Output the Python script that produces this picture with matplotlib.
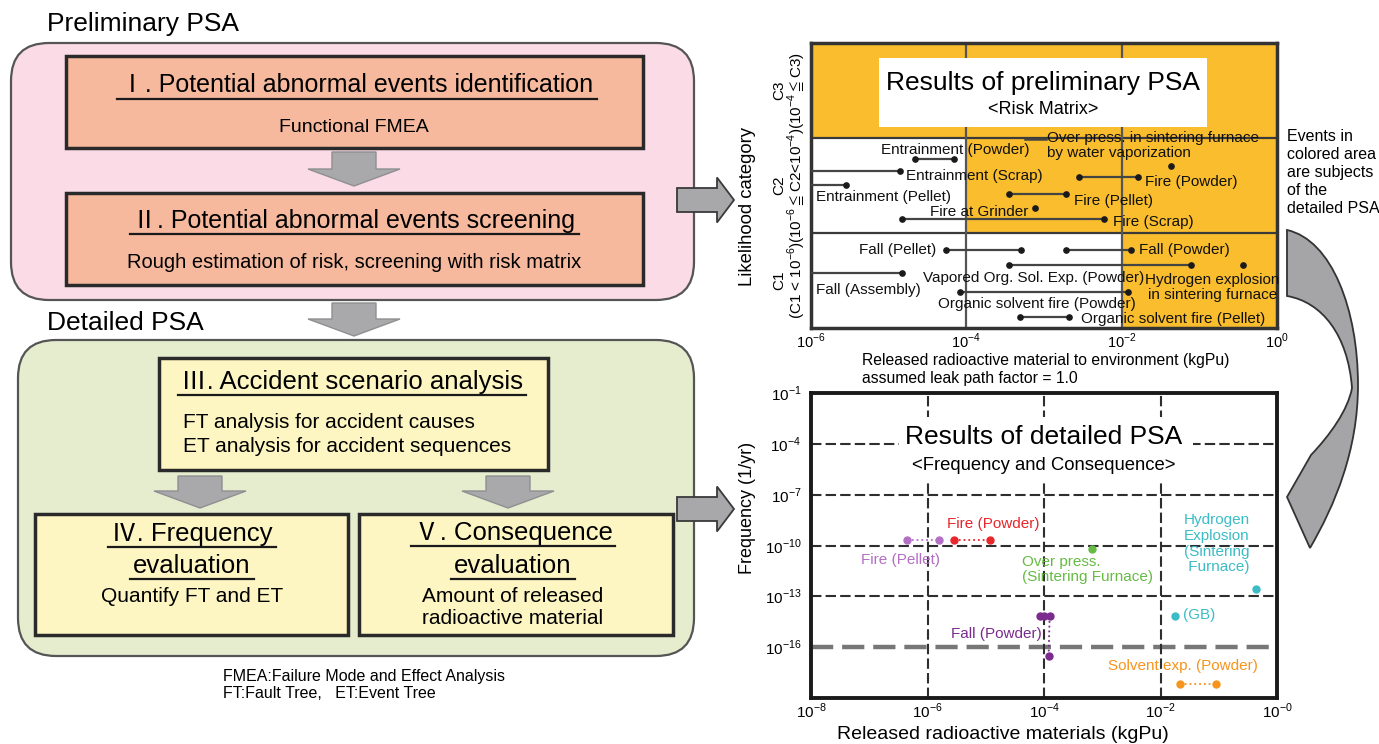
import matplotlib
matplotlib.use('Agg')
import matplotlib.pyplot as plt
from matplotlib.patches import FancyBboxPatch, Polygon, Rectangle, PathPatch
from matplotlib.path import Path

plt.rcParams['font.family'] = ['Liberation Sans', 'Noto Sans CJK JP', 'DejaVu Sans']
plt.rcParams['mathtext.fontset'] = 'custom'
plt.rcParams['mathtext.rm'] = 'Liberation Sans'
plt.rcParams['mathtext.fallback'] = 'stix'

# ---- preliminary PSA (risk matrix) data ----
cat_names = ['C1', 'C2', 'C3']
cat_ranges = ['(C1 < 10$^{-6}$)', '(10$^{-6}$$\\leqq$C2<10$^{-4}$)', '(10$^{-4}$$\\leqq$C3)']
colored_from = [1e-2, 1e-4, 1e-6]   # colored area starts here for C1, C2, C3
pre_xticks = [1e-6, 1e-4, 1e-2, 1e0]
pre_xticklabels = ['10$^{-6}$', '10$^{-4}$', '10$^{-2}$', '10$^{0}$']

pre_names = ['Entrainment (Powder)', 'Entrainment (Scrap)', 'Entrainment (Pellet)',
             'Fire at Grinder', 'Fire (Scrap)', 'Fire (Pellet)', 'Fire (Powder)',
             'Over press. in sintering furnace\nby water vaporization',
             'Fall (Pellet)', 'Fall (Powder)', 'Vapored Org. Sol. Exp. (Powder)',
             'Hydrogen explosion\nin sintering furnace', 'Fall (Assembly)',
             'Organic solvent fire (Powder)', 'Organic solvent fire (Pellet)']
pre_lo = [2.2e-5, 1e-6, 1e-6, 7.6e-4, 1.5e-5, 3.5e-4, 2.8e-3, 4.3e-2,
          5.5e-5, 1.9e-3, 3.5e-4, 0.37, 1e-6, 8.3e-5, 4.9e-4]
pre_hi = [6.9e-5, 1.4e-5, 2.8e-6, 7.6e-4, 5.9e-3, 1.9e-3, 1.6e-2, 4.3e-2,
          5.0e-4, 1.3e-2, 7.8e-2, 0.37, 1.5e-5, 1.2e-2, 2.1e-3]
pre_y = [1.78, 1.655, 1.507, 1.268, 1.144, 1.408, 1.585, 1.71,
         0.82, 0.82, 0.662, 0.662, 0.581, 0.377, 0.12]
# label placement (log10 x, y, ha)
pre_lab = [(-4.14, 1.873, 'center'), (-4.78, 1.595, 'left'), (-5.94, 1.384, 'left'),
           (-3.20, 1.222, 'right'), (-2.11, 1.12, 'left'), (-2.62, 1.338, 'left'),
           (-1.70, 1.542, 'left'), (-2.96, 1.923, 'left'),
           (-4.39, 0.817, 'right'), (-1.78, 0.817, 'left'), (-3.13, 0.528, 'center'),
           (-0.83, 0.43, 'center'), (-5.94, 0.401, 'left'), (-3.09, 0.254, 'center'),
           (-2.52, 0.099, 'left')]

# ---- detailed PSA (frequency vs consequence) data ----
det_names = ['Fire (Pellet)', 'Fire (Powder)', 'Over press.\n(Sintering Furnace)',
             'Hydrogen\nExplosion\n(Sintering\n Furnace)', '(GB)', 'Fall (Powder)',
             'Solvent exp. (Powder)']
det_x = [[4.5e-7, 1.6e-6], [2.9e-6, 1.2e-5], [6.6e-4], [0.44], [0.0174],
         [8.5e-5, 1.0e-4, 1.25e-4, 1.2e-4], [0.022, 0.091]]
det_y = [[2e-10, 2e-10], [2e-10, 2e-10], [6.6e-11], [2.7e-13], [6.6e-15],
         [6.6e-15, 6.6e-15, 6.6e-15, 3.2e-17], [6.9e-19, 6.9e-19]]
det_colors = ['#b46fc4', '#e8262b', '#66bb44', '#3cbcc6', '#3cbcc6', '#7b2a8e', '#f7941d']
det_lab = [(-6.46, -10.86, 'center'), (-4.87, -8.71, 'center'), (-4.38, -11.41, 'left'),
           (-1.03, -9.9, 'center'), (-1.62, -14.1, 'left'), (-4.82, -15.2, 'center'),
           (-1.62, -17.1, 'center')]
det_yticks = [1e-1, 1e-4, 1e-7, 1e-10, 1e-13, 1e-16]
det_yticklabels = ['10$^{-1}$', '10$^{-4}$', '10$^{-7}$', '10$^{-10}$', '10$^{-13}$', '10$^{-16}$']
det_xticks = [1e-8, 1e-6, 1e-4, 1e-2, 1e0]
det_xticklabels = ['10$^{-8}$', '10$^{-6}$', '10$^{-4}$', '10$^{-2}$', '10$^{-0}$']

W, H = 1379, 744
fig = plt.figure(figsize=(W / 100, H / 100), dpi=100)


def fax(l, t, r, b, **kw):
    return fig.add_axes([l / W, 1 - b / H, (r - l) / W, (b - t) / H], **kw)


def P(x, y):
    return (x / W, 1 - y / H)


bg = fax(0, 0, W, H, zorder=-1)
bg.set_xlim(0, W)
bg.set_ylim(H, 0)
bg.axis('off')

# ---------------- left flowchart ----------------
EDGE = '#2a2a2a'


def rbox(x0, y0, x1, y1, fc, r=0, lw=2.5, ec=EDGE):
    style = 'round,pad=0,rounding_size=%d' % r if r else 'square,pad=0'
    bg.add_patch(FancyBboxPatch((x0, y0), x1 - x0, y1 - y0, boxstyle=style,
                                fc=fc, ec=ec, lw=lw))


def down_arrow(cx, y0, y1, sw=44, hw=92, hl=17):
    pts = [(cx - sw / 2, y0), (cx + sw / 2, y0), (cx + sw / 2, y1 - hl), (cx + hw / 2, y1 - hl),
           (cx, y1), (cx - hw / 2, y1 - hl), (cx - sw / 2, y1 - hl)]
    bg.add_patch(Polygon(pts, closed=True, fc='#a9a9ab', ec='#8f8f92', lw=1))


def right_arrow(x0, x1, cy, sh=24, hh=45, hl=17):
    pts = [(x0, cy - sh / 2), (x1 - hl, cy - sh / 2), (x1 - hl, cy - hh / 2), (x1, cy),
           (x1 - hl, cy + hh / 2), (x1 - hl, cy + sh / 2), (x0, cy + sh / 2)]
    bg.add_patch(Polygon(pts, closed=True, fc='#a8a8ab', ec='#3a3a3a', lw=1.3, zorder=5))


rbox(11, 43, 694, 300, '#fadbe6', r=38, lw=1.6, ec='#555555')
rbox(18, 340, 694, 656, '#e6edcf', r=38, lw=1.6, ec='#555555')
rbox(66, 56, 643, 148, '#f6b99e')
rbox(66, 193, 643, 285, '#f6b99e')
rbox(159, 358, 548, 470, '#fdf6c2')
rbox(35, 514, 348, 635, '#fdf6c2')
rbox(359, 514, 673, 635, '#fdf6c2')

down_arrow(354, 152, 186)
down_arrow(354, 303, 336)
down_arrow(200, 476, 508)
down_arrow(508, 476, 508)
right_arrow(677, 734, 200)
right_arrow(677, 734, 509)

bg.text(47, 24, 'Preliminary PSA', fontsize=19, ha='left', va='center')
bg.text(47, 323, 'Detailed PSA', fontsize=19, ha='left', va='center')

ul = []
ul.append(bg.text(357, 85, 'Ⅰ. Potential abnormal events identification', fontsize=18, ha='center', va='center'))
bg.text(354, 127, 'Functional FMEA', fontsize=14, ha='center', va='center')
ul.append(bg.text(354, 221, 'Ⅱ. Potential abnormal events screening', fontsize=18, ha='center', va='center'))
bg.text(354, 263, 'Rough estimation of risk, screening with risk matrix', fontsize=14.5, ha='center', va='center')
ul.append(bg.text(352, 382, 'Ⅲ. Accident scenario analysis', fontsize=18.5, ha='center', va='center'))
bg.text(183, 423, 'FT analysis for accident causes', fontsize=15, ha='left', va='center')
bg.text(183, 446, 'ET analysis for accident sequences', fontsize=15, ha='left', va='center')
ul.append(bg.text(192, 534, 'Ⅳ. Frequency', fontsize=18.5, ha='center', va='center'))
ul.append(bg.text(192, 566, 'evaluation', fontsize=18.5, ha='center', va='center'))
bg.text(192, 596, 'Quantify FT and ET', fontsize=15, ha='center', va='center')
ul.append(bg.text(513, 533, 'Ⅴ. Consequence', fontsize=18.5, ha='center', va='center'))
ul.append(bg.text(513, 566, 'evaluation', fontsize=18.5, ha='center', va='center'))
bg.text(513, 597, 'Amount of released', fontsize=15, ha='center', va='center')
bg.text(513, 619, 'radioactive material', fontsize=15, ha='center', va='center')

bg.text(223, 676, 'FMEA:Failure Mode and Effect Analysis', fontsize=11.5, ha='left', va='center')
bg.text(223, 694, 'FT:Fault Tree,   ET:Event Tree', fontsize=11.5, ha='left', va='center')

# curved arrow from the risk matrix to the detailed PSA (smooth outline)
M, C4, L, CL = Path.MOVETO, Path.CURVE4, Path.LINETO, Path.CLOSEPOLY
verts = [(1287, 230),
         (1332, 240), (1358, 310), (1358, 385),      # outer edge, upper half
         (1358, 450), (1335, 505), (1310, 548),      # outer edge, lower half to tip
         (1287, 497),                                # barb
         (1311, 455),                                # barb root
         (1330, 435), (1348, 410), (1352, 388),      # inner edge, lower half
         (1348, 335), (1322, 302), (1287, 296),      # inner edge, upper half
         (1287, 230)]
codes = [M, C4, C4, C4, C4, C4, C4, L, L, C4, C4, C4, C4, C4, C4, CL]
bg.add_patch(PathPatch(Path(verts, codes), fc='#a5a5a8', ec='#333333', lw=1.3))

# ---------------- preliminary PSA chart ----------------
ax1 = fax(811, 43, 1277, 328)
ax1.set_xscale('log')
ax1.set_xlim(1e-6, 1e0)
ax1.set_ylim(0, 3)
yellow = '#f9bd2d'
for i, x0 in enumerate(colored_from):
    ax1.fill_between([x0, 1e0], i, i + 1, color=yellow, lw=0, zorder=0)
for i in range(1, len(cat_names)):
    ax1.axhline(i, color='#3a3a3a', lw=1.6, zorder=1)
for xv in colored_from[:2]:
    ax1.axvline(xv, color='#555555', lw=1.6, zorder=1)

for lo, hi, y in zip(pre_lo, pre_hi, pre_y):
    ax1.plot([lo, hi], [y, y], color='#444444', lw=1.6, zorder=3, solid_capstyle='butt')
    pts = [v for v in {lo, hi} if v > 1e-6]
    ax1.plot(pts, [y] * len(pts), 'o', color='#1a1a1a', ms=3.8, zorder=4)
# leader for the over-pressure label
ax1.plot([10 ** -3.25, 10 ** -2.98], [1.99, 1.99], color='#444444', lw=1.8, zorder=3)

for name, (lx, ly, ha) in zip(pre_names, pre_lab):
    ax1.text(10 ** lx, ly, name, fontsize=11, ha=ha, va='center', zorder=5,
             linespacing=1.1, color='#111111')

ax1.set_xticks(pre_xticks)
ax1.set_xticklabels(pre_xticklabels, fontsize=10.5)
ax1.minorticks_off()
ax1.set_yticks([])
ax1.tick_params(length=0, pad=3)
for s in ax1.spines.values():
    s.set_linewidth(2.5)
    s.set_color('#333333')
for i, (cn, cr) in enumerate(zip(cat_names, cat_ranges)):
    ax1.text(-0.069, (i + 0.5) / 3, cn, transform=ax1.transAxes, rotation=90,
             fontsize=11, ha='center', va='center')
    ax1.text(-0.031, (i + 0.5) / 3, cr, transform=ax1.transAxes, rotation=90,
             fontsize=11, ha='center', va='center')

fig.add_artist(Rectangle(P(879, 127), 328 / W, 69 / H, transform=fig.transFigure,
                         fc='white', ec='none', zorder=3))
fig.text(*P(1043, 83), 'Results of preliminary PSA', fontsize=19, ha='center', va='center', zorder=4)
fig.text(*P(1043, 110), '<Risk Matrix>', fontsize=13, ha='center', va='center', zorder=4)
fig.text(*P(747, 207), 'Likelihood category', fontsize=13.3, rotation=90, ha='center', va='center')
fig.text(*P(862, 360), 'Released radioactive material to environment (kgPu)', fontsize=11.3,
         ha='left', va='center')
fig.text(*P(862, 379), 'assumed leak path factor = 1.0', fontsize=11.3, ha='left', va='center')
fig.text(*P(1287, 129), 'Events in\ncolored area\nare subjects\nof the\ndetailed PSA',
         fontsize=11.5, ha='left', va='top', linespacing=1.25)

# ---------------- detailed PSA chart ----------------
ax2 = fax(811, 393, 1277, 698)
ax2.set_xscale('log')
ax2.set_yscale('log')
ax2.set_xlim(1e-8, 1e0)
ax2.set_ylim(1e-19, 1e-1)
for yv in det_yticks[1:]:
    thick = yv == 1e-16
    ax2.axhline(yv, color='#777777' if thick else '#2e2e2e', lw=3.2 if thick else 1.5,
                ls=(0, (5, 2)), zorder=1)
for xv in det_xticks[1:-1]:
    ax2.axvline(xv, color='#2e2e2e', lw=1.5, ls=(0, (5, 2)), zorder=1)

for xs, ys, c in zip(det_x, det_y, det_colors):
    ax2.plot(xs, ys, ls=':', lw=1.3, color=c, marker='o', ms=5, zorder=3)
for name, (lx, ly, ha), c in zip(det_names, det_lab, det_colors):
    ax2.text(10 ** lx, 10 ** ly, name, fontsize=11, ha=ha, va='center', color=c,
             linespacing=1.15, zorder=4)

ax2.set_xticks(det_xticks)
ax2.set_xticklabels(det_xticklabels, fontsize=11)
ax2.set_yticks(det_yticks)
ax2.set_yticklabels(det_yticklabels, fontsize=11)
ax2.minorticks_off()
ax2.tick_params(axis='y', length=0, pad=7)
ax2.tick_params(axis='x', length=0, pad=3)
for s in ax2.spines.values():
    s.set_linewidth(2.8)
    s.set_color('#1a1a1a')

fig.add_artist(Rectangle(P(899, 480), 294 / W, 63 / H, transform=fig.transFigure,
                         fc='white', ec='none', zorder=3))
fig.text(*P(1044, 437), 'Results of detailed PSA', fontsize=19, ha='center', va='center', zorder=4)
fig.text(*P(1044, 465), '<Frequency and Consequence>', fontsize=13.3, ha='center', va='center', zorder=4)
fig.text(*P(747, 508), 'Frequency (1/yr)', fontsize=13, rotation=90, ha='center', va='center')
fig.text(*P(1003, 743), 'Released radioactive materials (kgPu)', fontsize=14, ha='center', va='bottom')

# underlines under the step titles
fig.canvas.draw()
renderer = fig.canvas.get_renderer()
inv = bg.transData.inverted()
for t in ul:
    bb = t.get_window_extent(renderer)
    x0, y0 = inv.transform((bb.x0, bb.y0))
    x1, _ = inv.transform((bb.x1, bb.y0))
    bg.plot([x0 - 3, x1 + 3], [y0 + 1.5, y0 + 1.5], color='#1a1a1a', lw=1.6)

fig.savefig('out.png', dpi=100)
